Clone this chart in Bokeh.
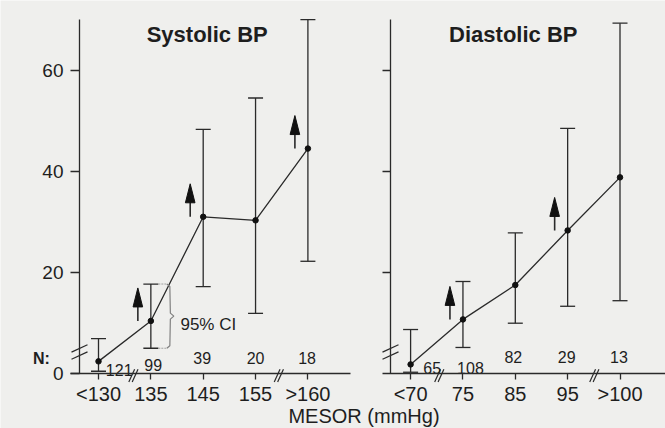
from bokeh.plotting import figure
from bokeh.models import (ColumnDataSource, Whisker, TeeHead, LinearAxis, FixedTicker,
                          Range1d)
from bokeh.embed import file_html
from bokeh.resources import INLINE
from bokeh.core.properties import value

# ---------------- data ----------------
sys_labels = ["<130", "135", "145", "155", ">160"]
sys_mean = [2.4, 10.4, 31.0, 30.3, 44.5]
sys_lower = [0.45, 5.0, 17.2, 11.9, 22.2]
sys_upper = [6.9, 17.7, 48.3, 54.5, 70.0]
sys_n = [121, 99, 39, 20, 18]
sys_arrow = [False, True, True, False, True]

dia_labels = ["<70", "75", "85", "95", ">100"]
dia_mean = [1.8, 10.7, 17.5, 28.3, 38.8]
dia_lower = [0.25, 5.15, 9.95, 13.3, 14.4]
dia_upper = [8.7, 18.2, 27.8, 48.5, 69.3]
dia_n = [65, 108, 82, 29, 13]
dia_arrow = [False, True, False, True, False]

y_ticks = [0, 20, 40, 60]
titles = ["Systolic BP", "Diastolic BP"]
x_title = "MESOR (mmHg)"
n_title = "N:"

# ---------------- layout / style ----------------
W, H = 665, 428
BG = "#efefed"
INK = "#2a2a2a"
TXT = "#1e1e1e"
FONT = "Liberation Sans"
PXX = 52.35   # px per category step
PXY = 5.055   # px per y unit
X0_PX, Y0_PX = 98.0, 373.0   # pixel position of the first category / of y = 0


def dx(px):
    return px / PXX


def dy(px):
    return px / PXY


x_start, x_end = dx(0 - X0_PX), dx(W - X0_PX)
y_start, y_end = dy(Y0_PX - H), dy(Y0_PX - 0)
AX_TOP = dy(Y0_PX - 19)
RIGHT = dx(410.1 - X0_PX)         # offset of the right panel
YL_AX = dx(79 - X0_PX)            # left panel y-axis position
YR_AX = dx(390 - X0_PX)           # right panel y-axis position

sys_x = [float(i) for i in range(len(sys_labels))]
dia_x = [round(RIGHT + i, 4) for i in range(len(dia_labels))]

p = figure(width=W, height=H,
           x_range=Range1d(x_start, x_end), y_range=Range1d(y_start, y_end),
           output_backend="svg", toolbar_location=None,
           x_axis_location=None, y_axis_location=None, title=None,
           min_border=0, min_border_left=0, min_border_right=0, min_border_top=0,
           min_border_bottom=0,
           background_fill_color=BG, border_fill_color=BG,
           outline_line_color=None)
p.grid.visible = False


def style_axis(ax):
    ax.axis_line_color = INK
    ax.axis_line_width = 1.3
    ax.major_tick_line_color = INK
    ax.major_tick_line_width = 1.3
    ax.minor_tick_out = 0
    ax.minor_tick_in = 0
    ax.major_tick_in = 0
    ax.major_label_text_font = FONT
    ax.major_label_text_color = TXT


# y axes
yl = LinearAxis(ticker=FixedTicker(ticks=y_ticks, minor_ticks=[]),
                fixed_location=YL_AX, bounds=(0, AX_TOP))
style_axis(yl)
yl.major_tick_out = 9
yl.major_label_standoff = 7
yl.major_label_text_font_size = "19px"
p.add_layout(yl, "left")

yr = LinearAxis(ticker=FixedTicker(ticks=y_ticks[1:], minor_ticks=[]),
                fixed_location=YR_AX, bounds=(0, AX_TOP))
style_axis(yr)
yr.major_tick_out = 8
yr.major_label_standoff = 0
yr.major_label_text_font_size = "1px"
yr.major_label_text_color = None
p.add_layout(yr, "left")

# x axes: tick labels (no line) + two line segments
xlab = LinearAxis(ticker=FixedTicker(ticks=sys_x + dia_x, minor_ticks=[]),
                  fixed_location=0)
style_axis(xlab)
xlab.axis_line_color = None
xlab.major_tick_out = 6
xlab.major_label_standoff = 3
xlab.major_label_text_font_size = "20px"
xlab.major_label_overrides = {t: s for t, s in zip(sys_x + dia_x, sys_labels + dia_labels)}
p.add_layout(xlab, "below")

for b in [(dx(70 - X0_PX), dx(350 - X0_PX)), (dx(382 - X0_PX), x_end)]:
    ax = LinearAxis(ticker=FixedTicker(ticks=[], minor_ticks=[]), fixed_location=0, bounds=b)
    style_axis(ax)
    ax.major_tick_out = 0
    ax.major_label_standoff = 0
    ax.major_label_text_font_size = "1px"
    ax.major_label_text_color = None
    p.add_layout(ax, "below")

# error bars
src = ColumnDataSource(dict(x=sys_x + dia_x, lower=sys_lower + dia_lower,
                            upper=sys_upper + dia_upper))
p.add_layout(Whisker(source=src, base="x", lower="lower", upper="upper",
                     dimension="height", line_color=INK, line_width=1.3,
                     upper_head=TeeHead(size=15, line_color=INK, line_width=1.3),
                     lower_head=TeeHead(size=15, line_color=INK, line_width=1.3)))

# lines and points
p.line(sys_x, sys_mean, line_color=INK, line_width=1.3)
p.line(dia_x, dia_mean, line_color=INK, line_width=1.3)
p.scatter(sys_x + dia_x, sys_mean + dia_mean, size=5.5, fill_color="#111111",
          line_color="#111111")

# arrows
ax0, ay0, ay1, hx, hy = [], [], [], [], []
for xs, ms, fl in [(sys_x, sys_mean, sys_arrow), (dia_x, dia_mean, dia_arrow)]:
    for x, m, f in zip(xs, ms, fl):
        if not f:
            continue
        cx = x + dx(-13)
        ax0.append(cx)
        ay0.append(m)
        ay1.append(m + dy(16))
        hx.append([cx - dx(4.8), cx, cx + dx(4.8)])
        hy.append([m + dy(14), m + dy(33), m + dy(14)])
p.segment(ax0, ay0, ax0, ay1, line_color=INK, line_width=1.6)
p.patches(hx, hy, fill_color="#111111", line_color="#111111", line_width=1)

# axis breaks
bx0, by0, bx1, by1 = [], [], [], []
yb = dy(Y0_PX - 351.5)
for axx in [YL_AX, YR_AX]:
    for off in (-3.6, 3.6):
        c = yb + dy(off)
        bx0.append(axx - dx(8)); by0.append(c - dy(3.7))
        bx1.append(axx + dx(8)); by1.append(c + dy(3.7))
for c0 in [0.667, 3.445, RIGHT + 0.548, RIGHT + 3.51]:
    for off in (-1.7, 1.7):
        c = c0 + dx(off)
        bx0.append(c - dx(2.9)); by0.append(dy(-8.5))
        bx1.append(c + dx(2.9)); by1.append(dy(4.2))
p.segment(bx0, by0, bx1, by1, line_color=INK, line_width=1.2)

# 95% CI brace on the 135 category
k = 1
top, bot = sys_upper[k], sys_lower[k]
mid = (top + bot) / 2
xb = sys_x[k]
p.segment([xb + dx(7.5)] * 2, [top, bot], [xb + dx(16)] * 2, [top, bot],
          line_color="#a0a0a0", line_width=1, line_dash="2 1")
p.line([xb + dx(16), xb + dx(19), xb + dx(19.5), xb + dx(23),
        xb + dx(19.5), xb + dx(19), xb + dx(16)],
       [top, top - dy(2.5), mid + dy(3), mid, mid - dy(3), bot + dy(2.5), bot],
       line_color="#808080", line_width=1.2)
p.text([xb + dx(29.6)], [mid - dy(8.7)], text=["95% CI"], text_font=value(FONT),
       text_font_size="17px", text_color=TXT, text_baseline="alphabetic",
       text_align="left")

# N labels
sys_off = [(20.7, 2.4), (2.3, 1.4), (-1, 0), (0, 0), (-0.8, 0)]
dia_off = [(21.6, 2.2), (7.5, 2.2), (-2, 0), (-1, 0), (-1, 0)]
nx, ny, nt = [], [], []
for xs, ns, offs, base in [(sys_x, sys_n, sys_off, 3.03), (dia_x, dia_n, dia_off, 3.22)]:
    for x, n, (ox, oy) in zip(xs, ns, offs):
        nx.append(x + dx(ox))
        ny.append(base - oy)
        nt.append(str(n))
p.text(nx, ny, text=nt, text_font=value(FONT), text_font_size="16px",
       text_color=TXT, text_align="center", text_baseline="alphabetic")

p.text([dx(41 - X0_PX)], [dy(Y0_PX - 358.3)], text=[n_title], text_font=value(FONT),
       text_font_size="16px", text_font_style="bold", text_color=TXT,
       text_align="center", text_baseline="alphabetic")

# panel titles
p.text([sys_x[2] + dx(4), dia_x[2] + dx(-2)], [dy(Y0_PX - 33.5)] * 2, text=titles,
       text_font=value(FONT), text_font_size="22px", text_font_style="bold",
       text_color=TXT, text_align="center", text_baseline="alphabetic")

# shared x title
p.text([dx(363.5 - X0_PX)], [dy(Y0_PX - 415.5)], text=[x_title], text_font=value(FONT),
       text_font_size="20px", text_color=TXT, text_align="center",
       text_baseline="alphabetic")

open("out.html", "w").write(file_html(p, INLINE))
